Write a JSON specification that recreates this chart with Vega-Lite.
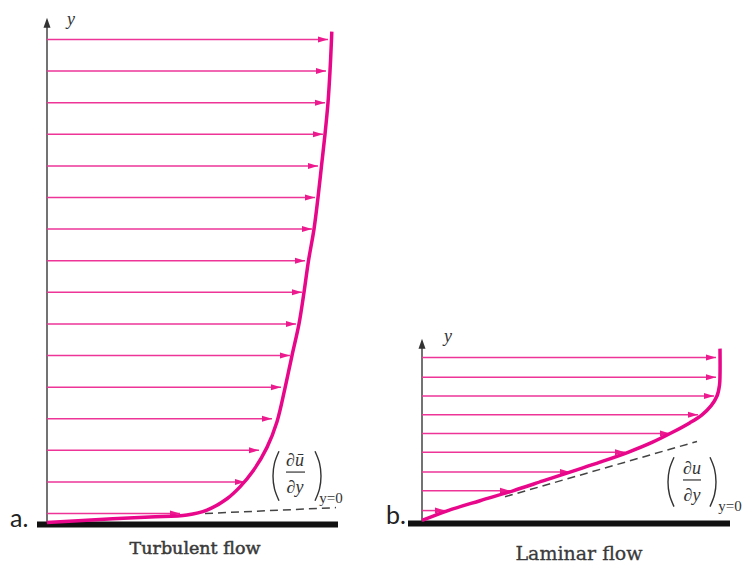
{
  "$schema": "https://vega.github.io/schema/vega-lite/v6.json",
  "width": 745,
  "height": 564,
  "autosize": {"type": "fit", "contains": "padding"},
  "padding": 0,
  "background": "white",
  "config": {"view": {"stroke": null}},
  "encoding": {
    "x": {"field": "x", "type": "quantitative", "scale": {"domain": [0, 745], "nice": false, "zero": false}, "axis": null},
    "y": {"field": "y", "type": "quantitative", "scale": {"domain": [0, 564], "reverse": true, "nice": false, "zero": false}, "axis": null}
  },
  "datasets": {
    "arrows": [
      {"panel": "a", "y": 40, "x": 328, "x0": 47},
      {"panel": "a", "y": 72, "x": 326, "x0": 47},
      {"panel": "a", "y": 104, "x": 325, "x0": 47},
      {"panel": "a", "y": 136, "x": 323, "x0": 47},
      {"panel": "a", "y": 168, "x": 318, "x0": 47},
      {"panel": "a", "y": 200, "x": 315, "x0": 47},
      {"panel": "a", "y": 232, "x": 312, "x0": 47},
      {"panel": "a", "y": 264, "x": 305, "x0": 47},
      {"panel": "a", "y": 296, "x": 302, "x0": 47},
      {"panel": "a", "y": 328, "x": 296, "x0": 47},
      {"panel": "a", "y": 360, "x": 290, "x0": 47},
      {"panel": "a", "y": 392, "x": 281, "x0": 47},
      {"panel": "a", "y": 424, "x": 272, "x0": 47},
      {"panel": "a", "y": 456, "x": 259, "x0": 47},
      {"panel": "a", "y": 488, "x": 245, "x0": 47},
      {"panel": "a", "y": 520, "x": 180, "x0": 47},
      {"panel": "b", "y": 362, "x": 716, "x0": 422},
      {"panel": "b", "y": 382, "x": 716, "x0": 422},
      {"panel": "b", "y": 401, "x": 714, "x0": 422},
      {"panel": "b", "y": 420, "x": 698, "x0": 422},
      {"panel": "b", "y": 439, "x": 670, "x0": 422},
      {"panel": "b", "y": 458, "x": 625, "x0": 422},
      {"panel": "b", "y": 478, "x": 570, "x0": 422},
      {"panel": "b", "y": 497, "x": 510, "x0": 422},
      {"panel": "b", "y": 517, "x": 445, "x0": 422}
    ],
    "curves": [
      {"id": "a", "o": 1, "x": 47, "y": 529},
      {"id": "a", "o": 2, "x": 100, "y": 526},
      {"id": "a", "o": 3, "x": 150, "y": 523.5},
      {"id": "a", "o": 4, "x": 187, "y": 521.5},
      {"id": "a", "o": 5, "x": 207, "y": 516.5},
      {"id": "a", "o": 6, "x": 227, "y": 505},
      {"id": "a", "o": 7, "x": 240, "y": 493},
      {"id": "a", "o": 8, "x": 253, "y": 477},
      {"id": "a", "o": 9, "x": 267, "y": 453},
      {"id": "a", "o": 10, "x": 277, "y": 427},
      {"id": "a", "o": 11, "x": 285, "y": 393},
      {"id": "a", "o": 12, "x": 292, "y": 360},
      {"id": "a", "o": 13, "x": 299, "y": 328},
      {"id": "a", "o": 14, "x": 304, "y": 296},
      {"id": "a", "o": 15, "x": 308.5, "y": 264},
      {"id": "a", "o": 16, "x": 314, "y": 232},
      {"id": "a", "o": 17, "x": 318, "y": 200},
      {"id": "a", "o": 18, "x": 321.5, "y": 168},
      {"id": "a", "o": 19, "x": 325, "y": 136},
      {"id": "a", "o": 20, "x": 328, "y": 104},
      {"id": "a", "o": 21, "x": 330, "y": 72},
      {"id": "a", "o": 22, "x": 331.5, "y": 40},
      {"id": "a", "o": 23, "x": 331.8, "y": 32},
      {"id": "b", "o": 1, "x": 422, "y": 527},
      {"id": "b", "o": 2, "x": 448, "y": 517},
      {"id": "b", "o": 3, "x": 480, "y": 507},
      {"id": "b", "o": 4, "x": 513, "y": 497},
      {"id": "b", "o": 5, "x": 543, "y": 487},
      {"id": "b", "o": 6, "x": 573, "y": 477},
      {"id": "b", "o": 7, "x": 600, "y": 468},
      {"id": "b", "o": 8, "x": 628, "y": 458},
      {"id": "b", "o": 9, "x": 652, "y": 448},
      {"id": "b", "o": 10, "x": 672, "y": 438},
      {"id": "b", "o": 11, "x": 690, "y": 428},
      {"id": "b", "o": 12, "x": 702, "y": 420},
      {"id": "b", "o": 13, "x": 711, "y": 411},
      {"id": "b", "o": 14, "x": 717, "y": 401},
      {"id": "b", "o": 15, "x": 719.5, "y": 390},
      {"id": "b", "o": 16, "x": 720, "y": 380},
      {"id": "b", "o": 17, "x": 720, "y": 353}
    ],
    "dashes": [
      {"id": "a", "o": 1, "x": 205, "y": 520},
      {"id": "a", "o": 2, "x": 336, "y": 514},
      {"id": "b", "o": 1, "x": 505, "y": 503},
      {"id": "b", "o": 2, "x": 697, "y": 447}
    ],
    "parens": [
      {"id": "al", "o": 1, "x": 279, "y": 457},
      {"id": "al", "o": 2, "x": 274.5, "y": 469},
      {"id": "al", "o": 3, "x": 273, "y": 482},
      {"id": "al", "o": 4, "x": 274.5, "y": 495},
      {"id": "al", "o": 5, "x": 279, "y": 507},
      {"id": "ar", "o": 1, "x": 315, "y": 457},
      {"id": "ar", "o": 2, "x": 319.5, "y": 469},
      {"id": "ar", "o": 3, "x": 321, "y": 482},
      {"id": "ar", "o": 4, "x": 319.5, "y": 495},
      {"id": "ar", "o": 5, "x": 315, "y": 507},
      {"id": "bl", "o": 1, "x": 674, "y": 463},
      {"id": "bl", "o": 2, "x": 669.5, "y": 475},
      {"id": "bl", "o": 3, "x": 668, "y": 488},
      {"id": "bl", "o": 4, "x": 669.5, "y": 501},
      {"id": "bl", "o": 5, "x": 674, "y": 513},
      {"id": "br", "o": 1, "x": 710, "y": 463},
      {"id": "br", "o": 2, "x": 714.5, "y": 475},
      {"id": "br", "o": 3, "x": 716, "y": 488},
      {"id": "br", "o": 4, "x": 714.5, "y": 501},
      {"id": "br", "o": 5, "x": 710, "y": 513}
    ]
  },
  "layer": [
    {
      "data": {"values": [{"x": 37, "x2": 338, "y": 531}, {"x": 408, "x2": 730, "y": 530}]},
      "mark": {"type": "rule", "stroke": "#111111", "strokeWidth": 6},
      "encoding": {"x2": {"field": "x2"}}
    },
    {
      "data": {"values": [{"x": 47, "y": 24, "y2": 529}, {"x": 422, "y": 349, "y2": 528}]},
      "mark": {"type": "rule", "stroke": "#444444", "strokeWidth": 1.5},
      "encoding": {"y2": {"field": "y2"}}
    },
    {
      "data": {"values": [{"x": 47, "y": 18}, {"x": 422, "y": 343}]},
      "mark": {"type": "point", "shape": "M0,0L-0.7,2L0.7,2Z", "size": 100, "filled": true, "color": "#333333", "opacity": 1}
    },
    {
      "data": {"name": "arrows"},
      "mark": {"type": "rule", "stroke": "#ee3597", "strokeWidth": 1.5},
      "encoding": {"x2": {"field": "x0"}}
    },
    {
      "data": {"name": "arrows"},
      "mark": {"type": "point", "shape": "M-2,-0.6L0,0L-2,0.6Z", "size": 100, "filled": true, "color": "#ec1a8e", "opacity": 1}
    },
    {
      "data": {"name": "dashes"},
      "mark": {"type": "line", "stroke": "#444444", "strokeWidth": 1.5, "strokeDash": [8, 5]},
      "encoding": {"detail": {"field": "id"}, "order": {"field": "o"}}
    },
    {
      "data": {"name": "curves"},
      "mark": {"type": "line", "stroke": "#e8068a", "strokeWidth": 3.5, "interpolate": "catmull-rom", "strokeCap": "butt"},
      "encoding": {"detail": {"field": "id"}, "order": {"field": "o"}}
    },
    {
      "data": {"name": "parens"},
      "mark": {"type": "line", "stroke": "#333333", "strokeWidth": 1.4, "interpolate": "catmull-rom"},
      "encoding": {"detail": {"field": "id"}, "order": {"field": "o"}}
    },
    {
      "data": {"values": [{"x": 286, "x2": 305, "y": 478}, {"x": 683, "x2": 701, "y": 486}]},
      "mark": {"type": "rule", "stroke": "#333333", "strokeWidth": 1.2},
      "encoding": {"x2": {"field": "x2"}}
    },
    {
      "data": {"values": [{"x": 71, "y": 20, "t": "y"}, {"x": 448, "y": 341, "t": "y"}]},
      "mark": {"type": "text", "font": "Liberation Serif, serif", "fontStyle": "italic", "fontSize": 18, "color": "#333333", "align": "center", "baseline": "middle"},
      "encoding": {"text": {"field": "t"}}
    },
    {
      "data": {"values": [{"x": 295, "y": 467, "t": "∂ū"}, {"x": 295, "y": 494, "t": "∂y"}, {"x": 692, "y": 475, "t": "∂u"}, {"x": 692, "y": 502, "t": "∂y"}]},
      "mark": {"type": "text", "font": "Liberation Serif, serif", "fontStyle": "italic", "fontSize": 18, "color": "#333333", "align": "center", "baseline": "middle"},
      "encoding": {"text": {"field": "t"}}
    },
    {
      "data": {"values": [{"x": 331, "y": 504, "t": "y=0"}, {"x": 730, "y": 512, "t": "y=0"}]},
      "mark": {"type": "text", "font": "Liberation Serif, serif", "fontSize": 15, "color": "#333333", "align": "center", "baseline": "middle"},
      "encoding": {"text": {"field": "t"}}
    },
    {
      "data": {"values": [{"x": 10, "y": 534, "t": "a."}, {"x": 386, "y": 531, "t": "b."}]},
      "mark": {"type": "text", "font": "Lato", "fontSize": 25, "color": "#222222", "align": "left", "baseline": "alphabetic"},
      "encoding": {"text": {"field": "t"}}
    },
    {
      "data": {"values": [{"x": 195, "y": 561, "t": "Turbulent flow"}]},
      "mark": {"type": "text", "font": "DejaVu Serif", "fontSize": 17.5, "color": "#3a3a3a", "stroke": "#3a3a3a", "strokeWidth": 0.5, "align": "center", "baseline": "alphabetic"},
      "encoding": {"text": {"field": "t"}}
    },
    {
      "data": {"values": [{"x": 579, "y": 567, "t": "Laminar flow"}]},
      "mark": {"type": "text", "font": "DejaVu Serif", "fontSize": 19, "color": "#3a3a3a", "stroke": "#3a3a3a", "strokeWidth": 0.3, "align": "center", "baseline": "alphabetic"},
      "encoding": {"text": {"field": "t"}}
    }
  ]
}
